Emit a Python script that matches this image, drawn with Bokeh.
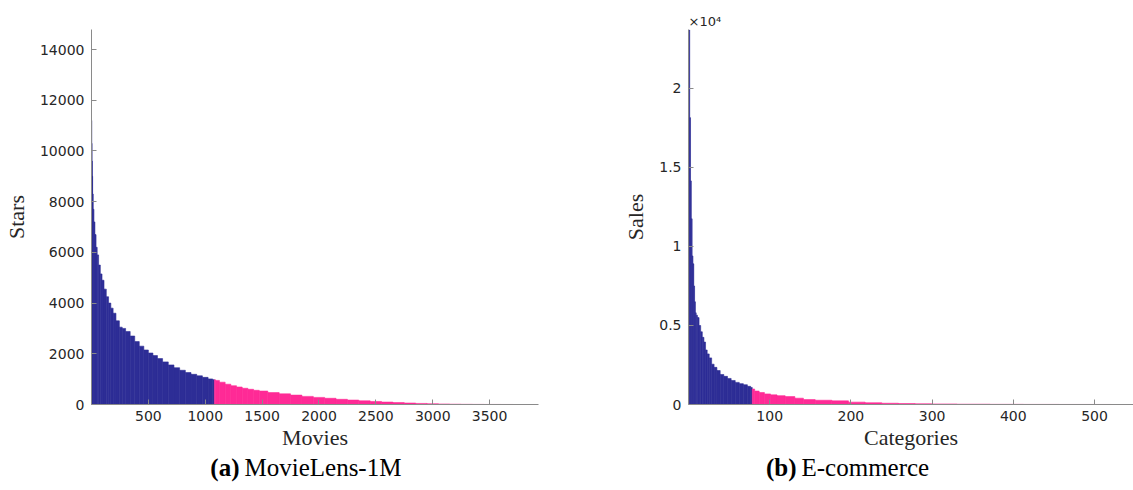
from bokeh.plotting import figure
from bokeh.layouts import row, column
from bokeh.models import Range1d, FixedTicker, ColumnDataSource
from bokeh.core.properties import value
from bokeh.embed import file_html
from bokeh.resources import INLINE

# ---------------- data ----------------
# (a) MovieLens-1M : movies ranked by popularity, stars per movie
movie_rank = [1, 3, 5, 8, 12, 18, 25, 35, 45, 55, 70, 85, 100, 120, 140, 160, 180,
              200, 230, 260, 280, 320, 360, 400, 440, 480, 520, 560, 600, 650, 700,
              750, 800, 850, 900, 950, 1000, 1050, 1080,
              1081, 1100, 1150, 1200, 1250, 1300, 1350, 1400, 1450, 1500, 1600, 1700,
              1800, 1900, 2000, 2100, 2200, 2300, 2400, 2500, 2600, 2700, 2800, 2900,
              3000, 3100, 3200, 3300, 3400, 3500, 3706]
movie_stars = [11200, 10300, 9600, 9000, 8300, 7700, 7200, 6700, 6200, 5900, 5500, 5150,
               4900, 4550, 4250, 4000, 3800, 3600, 3300, 3050, 3000, 2880, 2700, 2480,
               2300, 2150, 2030, 1930, 1810, 1680, 1560, 1450, 1350, 1260, 1190, 1130,
               1070, 1010, 980,
               975, 950, 880, 800, 740, 690, 640, 600, 560, 530, 470, 420, 370, 320,
               280, 245, 205, 175, 145, 120, 95, 75, 58, 42, 30, 20, 12, 7, 4, 2, 1]
movie_head_cutoff = 1080
movie_xticks = [500, 1000, 1500, 2000, 2500, 3000, 3500]
movie_yticks = [0, 2000, 4000, 6000, 8000, 10000, 12000, 14000]

# (b) E-commerce : categories ranked by sales
cat_rank = [1, 2, 3, 4, 5, 6, 7, 8, 9, 10, 12, 14, 16, 18, 20, 22, 24, 27, 30, 33, 37,
            41, 46, 50, 55, 60, 65, 70, 75, 78,
            79, 84, 90, 97, 105, 113, 125, 137, 146, 166, 187, 207, 228, 248, 269, 289,
            310, 351, 392, 433, 480, 520]
cat_sales = [23700, 18150, 14150, 11750, 9400, 8900, 7500, 6500, 5800, 5650, 5500, 5000,
             4600, 4250, 3950, 3450, 3200, 2950, 2550, 2350, 2150, 1900, 1780, 1650,
             1520, 1400, 1320, 1250, 1150, 1080,
             980, 850, 760, 670, 610, 560, 500, 400, 310, 270, 230, 150, 110, 80, 60,
             45, 35, 20, 10, 5, 2, 1]
cat_head_cutoff = 78
cat_xticks = [100, 200, 300, 400, 500]
cat_yticks = [0, 5000, 10000, 15000, 20000]
cat_ytick_labels = ["0", "0.5", "1", "1.5", "2"]
cat_multiplier = "×10⁴"

captions_bold = ["(a)", "(b)"]
captions_text = ["MovieLens-1M", "E-commerce"]

BLUE = "#2d2d96"
PINK = "#ff2a96"
AXIS = "#8a8a8a"
TXT = "#262626"
W = 1133
PH = 452          # height of the two chart panels
CH = 490 - PH     # height of the caption strip


def bar_source(ranks, values, cutoff):
    n = len(ranks)
    left, right, top, color = [], [], [], []
    for i in range(n):
        l = ranks[0] - 0.5 if i == 0 else (ranks[i - 1] + ranks[i]) / 2
        r = ranks[-1] + 0.5 if i == n - 1 else (ranks[i] + ranks[i + 1]) / 2
        left.append(l)
        right.append(r)
        top.append(values[i])
        color.append(BLUE if ranks[i] <= cutoff else PINK)
    return ColumnDataSource(dict(left=left, right=right, top=top, color=color))


def style(p, xlabel, ylabel):
    p.outline_line_color = None
    p.xgrid.visible = False
    p.ygrid.visible = False
    for ax in (p.xaxis[0], p.yaxis[0]):
        ax.axis_line_color = AXIS
        ax.major_tick_line_color = AXIS
        ax.minor_tick_line_color = None
        ax.major_tick_in = 5
        ax.major_tick_out = 0
        ax.major_label_text_font = "DejaVu Sans"
        ax.major_label_text_font_size = "14px"
        ax.major_label_text_color = TXT
        ax.axis_label_text_font = "Liberation Serif"
        ax.axis_label_text_font_size = "22px"
        ax.axis_label_text_font_style = "normal"
        ax.axis_label_text_color = TXT
    p.xaxis[0].axis_label = xlabel
    p.yaxis[0].axis_label = ylabel
    p.xaxis[0].major_label_standoff = 6
    p.yaxis[0].major_label_standoff = 7
    p.xaxis[0].axis_label_standoff = 1
    p.yaxis[0].axis_label_standoff = 8


# ---------------- panel (a) ----------------
p1 = figure(width=566, height=PH, output_backend="svg", toolbar_location=None,
            x_range=Range1d(0, 3930), y_range=Range1d(0, 14790),
            min_border_left=89, min_border_right=28, min_border_top=29,
            min_border_bottom=PH - 29 - 375)
p1.quad(left="left", right="right", top="top", bottom=0, fill_color="color",
        line_color="color", line_width=0.6,
        source=bar_source(movie_rank, movie_stars, movie_head_cutoff))
style(p1, "Movies", "Stars")
p1.xaxis[0].ticker = FixedTicker(ticks=movie_xticks)
p1.yaxis[0].ticker = FixedTicker(ticks=movie_yticks)

# ---------------- panel (b) ----------------
p2 = figure(width=567, height=PH, output_backend="svg", toolbar_location=None,
            x_range=Range1d(0, 548), y_range=Range1d(0, 23730),
            min_border_left=122, min_border_right=0, min_border_top=29,
            min_border_bottom=PH - 29 - 375,
            title=cat_multiplier, title_location="above")
p2.quad(left="left", right="right", top="top", bottom=0, fill_color="color",
        line_color="color", line_width=0.6,
        source=bar_source(cat_rank, cat_sales, cat_head_cutoff))
style(p2, "Categories", "Sales")
p2.xaxis[0].ticker = FixedTicker(ticks=cat_xticks)
p2.yaxis[0].ticker = FixedTicker(ticks=cat_yticks)
p2.yaxis[0].major_label_overrides = {t: s for t, s in zip(cat_yticks, cat_ytick_labels)}
p2.title.align = "left"
p2.title.offset = 0
p2.title.standoff = 1
p2.title.text_font = "DejaVu Sans"
p2.title.text_font_size = "13px"
p2.title.text_font_style = "normal"
p2.title.text_color = TXT

# ---------------- caption strip ----------------
cap = figure(width=W, height=CH, output_backend="svg", toolbar_location=None,
             x_range=Range1d(0, W), y_range=Range1d(0, CH),
             min_border=0, min_border_left=0, min_border_right=0,
             min_border_top=0, min_border_bottom=0)
cap.axis.visible = False
cap.grid.visible = False
cap.outline_line_color = None
cy = 490 - 467  # caption centre, measured up from the bottom edge
cap.text(x=[239, 796], y=[cy, cy], text=captions_bold, text_font=value("Liberation Serif"),
         text_font_size="25px", text_font_style="bold", text_color="black",
         text_baseline="middle", text_align="right")
cap.text(x=[244, 801], y=[cy, cy], text=captions_text, text_font=value("Liberation Serif"),
         text_font_size="25px", text_color="black",
         text_baseline="middle", text_align="left")

layout = column(row(p1, p2), cap)
open("out.html", "w").write(file_html(layout, INLINE))
